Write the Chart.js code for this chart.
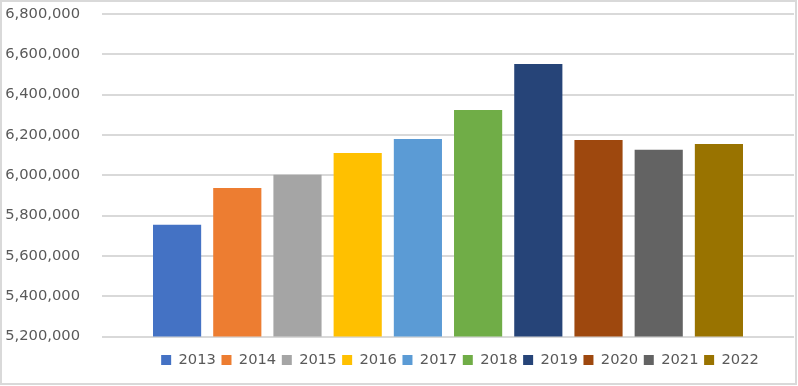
<!DOCTYPE html>
<html lang="en">

<head>
    <meta charset="UTF-8">
    <title>Yearly totals 2013-2022</title>
    <script src="https://cdn.jsdelivr.net/npm/chart.js"></script>
    <style>
        body { margin: 0; background: #ffffff; }
        #frame {
            width: 797px;
            height: 385px;
            box-sizing: border-box;
            border: 2px solid #d9d9d9;
            position: relative;
        }
    </style>
</head>

<body>
    <div id="frame"><canvas id="yearChart"></canvas></div>

    <script>
        const years = ['2013', '2014', '2015', '2016', '2017', '2018', '2019', '2020', '2021', '2022'];
        const totals = [5755000, 5937000, 6002000, 6111000, 6180000, 6324000, 6552000, 6175000, 6126000, 6155000];
        const barColors = ['#4472c4', '#ed7d31', '#a5a5a5', '#ffc000', '#5b9bd5',
                           '#70ad47', '#264478', '#9e480e', '#636363', '#997300'];
        const yTicks = { min: 5200000, max: 6800000, step: 200000 };

        const font = { family: '"DejaVu Sans"', size: 14.7 };

        // one dataset per year so every bar gets its own legend entry
        const datasets = years.map((year, i) => ({
            label: year,
            data: [totals[i]],
            backgroundColor: barColors[i],
            borderWidth: 0,
            categoryPercentage: 0.87,
            barPercentage: 0.8
        }));

        // Excel centres the legend a bit right of the plot centre
        const nudgeLegend = {
            id: 'nudgeLegend',
            afterLayout(chart) {
                chart.legend.left += 12;
                chart.legend.right += 12;
            }
        };

        new Chart(document.getElementById('yearChart'), {
            type: 'bar',
            data: { labels: [''], datasets: datasets },
            plugins: [nudgeLegend],
            options: {
                responsive: true,
                maintainAspectRatio: false,
                animation: false,
                layout: { padding: { top: 12, right: 1, bottom: 5.7, left: 0 } },
                scales: {
                    x: {
                        ticks: { display: false },
                        grid: { display: false, tickLength: 10.5 },
                        border: { display: false }
                    },
                    y: {
                        min: yTicks.min,
                        max: yTicks.max,
                        afterFit: scale => { scale.width = 100; },
                        ticks: {
                            stepSize: yTicks.step,
                            padding: 0,
                            color: '#595959',
                            font: font,
                            callback: v => v.toLocaleString('en-US')
                        },
                        // invisible tick marks keep the gap between labels and plot
                        grid: {
                            color: '#d9d9d9',
                            lineWidth: 2,
                            drawTicks: true,
                            tickLength: 22,
                            tickColor: 'rgba(0,0,0,0)'
                        },
                        border: { display: false }
                    }
                },
                plugins: {
                    legend: {
                        position: 'bottom',
                        fullSize: false,
                        labels: {
                            boxWidth: 10,
                            boxHeight: 10,
                            padding: 5.6,
                            color: '#595959',
                            font: font
                        }
                    },
                    tooltip: { enabled: false }
                }
            }
        });
    </script>

</body>

</html>
